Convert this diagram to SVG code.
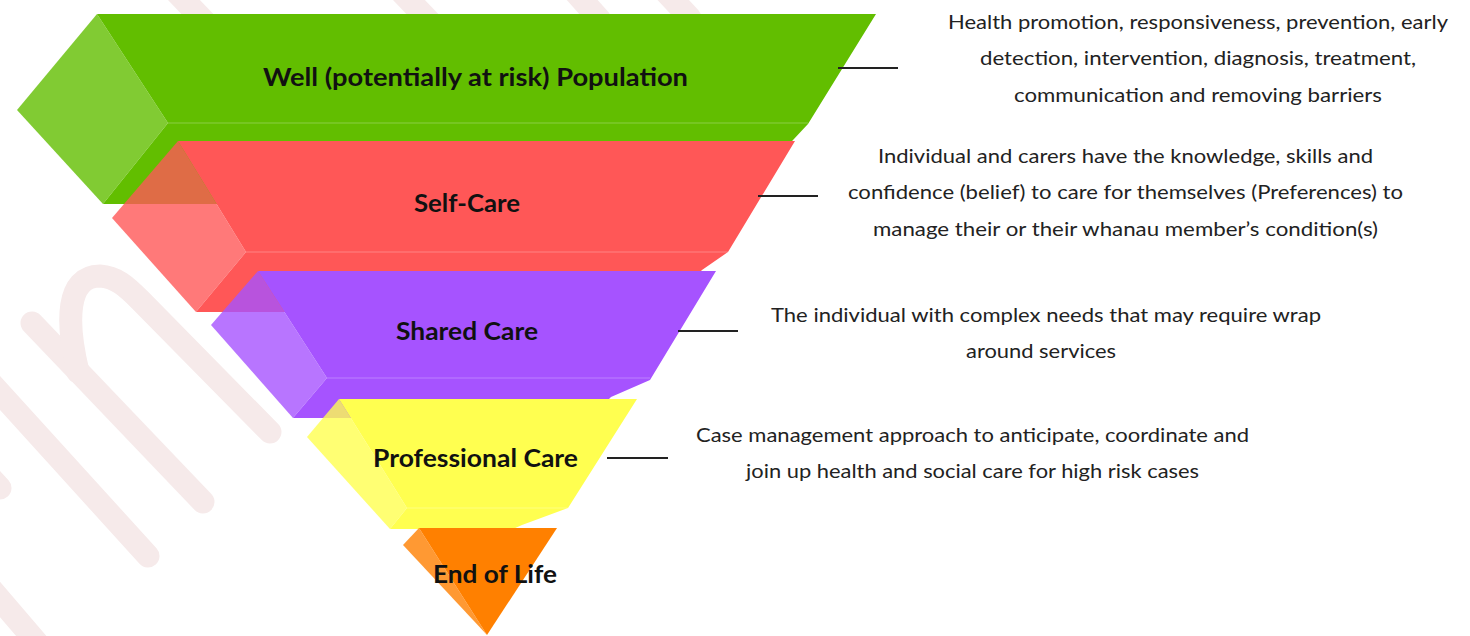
<svg xmlns="http://www.w3.org/2000/svg" width="1470" height="636" viewBox="0 0 1470 636">
  <style>
    .wm { fill: none; stroke: #F6EAEA; stroke-width: 23; stroke-linecap: round; stroke-linejoin: round; }
    .side { opacity: 0.8; }
    .edge { stroke: #FFFFFF; stroke-opacity: 0.18; stroke-width: 1.5; fill: none; }
    .lbl { font-family: Lato, "Open Sans", "Liberation Sans", sans-serif; font-weight: 700; font-size: 25px; fill: #111111; text-anchor: middle; }
    .desc { font-family: Lato, "Open Sans", "Liberation Sans", sans-serif; font-size: 20px; fill: #222222; text-anchor: middle; }
    .conn { stroke: #222222; stroke-width: 2; fill: none; }
  </style>

  <rect width="1470" height="636" fill="#FFFFFF"/>

  <!-- faint background logo strokes -->
  <g id="backdrop">
    <path class="wm" d="M32,323 L203,502"/>
    <path class="wm" d="M78,372 C66,322 66,276 100,276 C116,277 126,286 140,300 L270,432"/>
    <path class="wm" d="M-10,382 L148,556"/>
    <path class="wm" d="M-30,455 L0,488"/>
    <path class="wm" d="M-15,582 L45,652"/>
    <path class="wm" d="M160,-25 L205,22"/>
    <path class="wm" d="M385,-25 L430,22"/>
    <path class="wm" d="M560,-25 L600,20"/>
    <path class="wm" d="M650,-25 L690,18"/>
  </g>

  <!-- tier 1: well population -->
  <g id="tier-well">
    <polygon fill="#62BE00" points="97,14 876,14 808,124 793,140 737,204 103,204 168,123"/>
    <polygon class="side" fill="#62BE00" points="97,14 168,123 103,204 17,110"/>
    <line class="edge" x1="168" y1="123" x2="808" y2="123"/>
    <text class="lbl" x="475.5" y="86" textLength="425" lengthAdjust="spacingAndGlyphs">Well (potentially at risk) Population</text>
  </g>

  <!-- tier 2: self-care -->
  <g id="tier-self">
    <polygon fill="#FF5757" points="178,141 795,141 728,252 702,270 660,312 196,312 246,252"/>
    <polygon class="side" fill="#FF5757" points="178,141 246,252 196,312 112,218"/>
    <line class="edge" x1="246" y1="252" x2="728" y2="252"/>
    <text class="lbl" x="467" y="212" textLength="106" lengthAdjust="spacingAndGlyphs">Self-Care</text>
  </g>

  <!-- tier 3: shared care -->
  <g id="tier-shared">
    <polygon fill="#A653FF" points="258,271 716,271 650,380 611,397 590,418 293,418 327,378"/>
    <polygon class="side" fill="#A653FF" points="258,271 327,378 293,418 211,325"/>
    <line class="edge" x1="327" y1="378" x2="650" y2="378"/>
    <text class="lbl" x="467" y="340" textLength="142" lengthAdjust="spacingAndGlyphs">Shared Care</text>
  </g>

  <!-- tier 4: professional care -->
  <g id="tier-professional">
    <polygon fill="#FFFF50" points="339,399 637,399 568,508 522,525 513,529 390,529 407,508"/>
    <polygon class="side" fill="#FFFF50" points="339,399 407,508 390,529 307,437"/>
    <line class="edge" x1="407" y1="508" x2="568" y2="508"/>
    <text class="lbl" x="475.5" y="467" textLength="205" lengthAdjust="spacingAndGlyphs">Professional Care</text>
  </g>

  <!-- tier 5: end of life -->
  <g id="tier-end">
    <polygon fill="#FF8000" points="419,528 557,528 487,635"/>
    <polygon class="side" fill="#FF8000" points="419,528 487,635 403,545"/>
    <text class="lbl" x="495" y="583" textLength="124" lengthAdjust="spacingAndGlyphs">End of Life</text>
  </g>

  <!-- leader lines from tiers to descriptions -->
  <g id="connectors">
    <line class="conn" x1="838" y1="68" x2="898" y2="68"/>
    <line class="conn" x1="758" y1="196" x2="818" y2="196"/>
    <line class="conn" x1="678" y1="331" x2="738" y2="331"/>
    <line class="conn" x1="607" y1="458" x2="668" y2="458"/>
  </g>

  <g id="desc-well">
    <text class="desc" x="1198" y="29" textLength="500" lengthAdjust="spacingAndGlyphs">Health promotion, responsiveness, prevention, early</text>
    <text class="desc" x="1198" y="65" textLength="436" lengthAdjust="spacingAndGlyphs">detection, intervention, diagnosis, treatment,</text>
    <text class="desc" x="1198" y="102" textLength="368" lengthAdjust="spacingAndGlyphs">communication and removing barriers</text>
  </g>

  <g id="desc-self">
    <text class="desc" x="1125.5" y="163" textLength="495" lengthAdjust="spacingAndGlyphs">Individual and carers have the knowledge, skills and</text>
    <text class="desc" x="1125.5" y="199" textLength="555" lengthAdjust="spacingAndGlyphs">confidence (belief) to care for themselves (Preferences) to</text>
    <text class="desc" x="1125.5" y="236" textLength="505" lengthAdjust="spacingAndGlyphs">manage their or their whanau member’s condition(s)</text>
  </g>

  <g id="desc-shared">
    <text class="desc" x="1046" y="322" textLength="550" lengthAdjust="spacingAndGlyphs">The individual with complex needs that may require wrap</text>
    <text class="desc" x="1041" y="358" textLength="150" lengthAdjust="spacingAndGlyphs">around services</text>
  </g>

  <g id="desc-professional">
    <text class="desc" x="972.5" y="442" textLength="553" lengthAdjust="spacingAndGlyphs">Case management approach to anticipate, coordinate and</text>
    <text class="desc" x="972.5" y="478" textLength="453" lengthAdjust="spacingAndGlyphs">join up health and social care for high risk cases</text>
  </g>
</svg>
